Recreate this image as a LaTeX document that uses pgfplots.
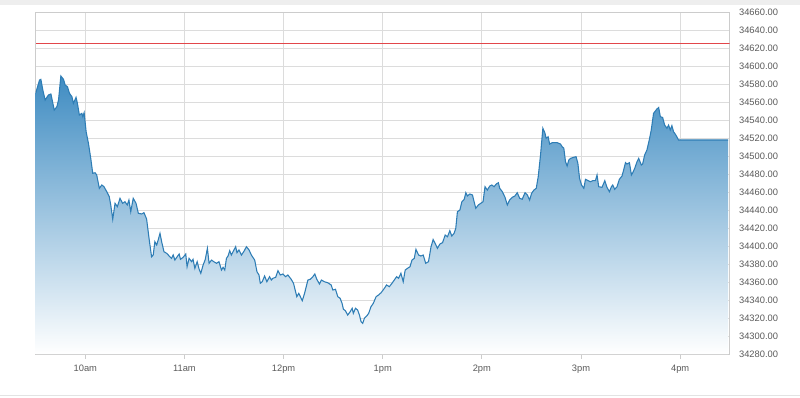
\documentclass[border=0pt]{standalone}
\usepackage{pgfplots}
\pgfplotsset{compat=1.18}
\usepackage{pgfplotstable}
\usepackage{fontspec}
\setmainfont{Liberation Sans}
\definecolor{gridc}{HTML}{DCDCDC}
\definecolor{framec}{HTML}{CCCCCC}
\definecolor{linec}{HTML}{2E7DB5}
\definecolor{filltop}{HTML}{3F8CC2}
\definecolor{refred}{RGB}{226,70,74}
\definecolor{labc}{HTML}{5A5A5A}
\definecolor{bandc}{HTML}{EEEEEE}

\pgfplotstableread{
x y
570.0 34570.0
572.3 34584.4
573.1 34585.2
574.3 34573.3
575.7 34562.2
577.7 34567.8
579.2 34568.9
581.2 34551.1
582.8 34554.8
583.8 34562.2
585.2 34588.9
586.8 34585.2
587.8 34578.9
589.2 34577.0
590.4 34569.7
591.9 34565.9
592.8 34558.6
594.4 34565.2
595.2 34558.6
596.4 34545.6
597.9 34547.4
598.5 34543.7
599.3 34548.1
600.5 34527.0
601.9 34514.1
603.3 34497.4
604.5 34480.8
605.9 34481.4
606.9 34478.9
608.5 34464.1
610.0 34467.8
611.3 34465.9
613.0 34460.3
614.5 34454.8
615.4 34445.6
616.6 34429.7
618.0 34447.4
619.4 34443.7
621.0 34453.0
622.6 34447.4
624.0 34449.2
625.4 34445.6
626.4 34451.1
627.5 34438.1
629.0 34453.0
630.7 34447.4
632.1 34436.3
634.1 34435.6
635.5 34437.0
637.1 34430.0
638.7 34406.7
640.1 34388.1
641.1 34390.0
642.1 34404.8
643.2 34401.1
644.1 34406.7
645.2 34414.1
646.2 34404.8
647.6 34393.7
649.2 34391.9
651.2 34388.1
652.2 34386.3
653.2 34390.0
654.2 34384.4
655.6 34388.1
656.8 34391.1
657.6 34385.2
659.2 34387.4
660.8 34391.1
661.6 34377.0
662.8 34386.3
664.3 34382.6
665.2 34385.2
666.3 34375.2
667.7 34382.6
668.9 34374.1
669.9 34369.7
671.3 34378.9
672.5 34384.4
673.9 34397.4
674.9 34380.8
676.4 34384.4
677.7 34382.6
679.4 34380.8
680.9 34382.6
682.4 34373.3
683.4 34376.3
684.4 34373.3
685.4 34386.3
686.4 34388.9
687.4 34394.8
688.4 34390.0
689.4 34393.7
691.0 34399.2
691.8 34392.6
693.0 34395.6
694.5 34390.0
695.9 34393.7
697.5 34399.2
699.1 34395.6
700.5 34390.0
702.5 34384.4
703.9 34371.4
705.1 34367.8
705.9 34358.6
707.1 34360.3
708.5 34366.7
709.9 34360.3
711.5 34365.9
712.6 34362.2
713.5 34364.1
715.2 34365.2
716.6 34372.6
718.0 34367.8
719.6 34368.9
721.2 34365.9
722.6 34367.8
724.6 34363.0
726.0 34358.6
728.0 34343.7
729.2 34347.4
731.3 34339.2
732.7 34347.4
734.7 34362.2
736.1 34363.0
737.7 34365.9
738.9 34368.9
740.1 34363.0
741.7 34357.8
742.9 34362.2
744.7 34360.3
746.7 34359.2
748.8 34356.7
749.8 34351.1
751.4 34351.9
752.8 34343.7
754.2 34341.9
755.4 34336.3
756.2 34329.7
757.4 34328.1
758.8 34323.3
760.3 34327.0
761.5 34330.8
762.2 34325.2
763.5 34330.8
764.8 34328.9
765.9 34323.3
766.9 34315.9
767.9 34314.1
768.9 34319.7
770.3 34322.2
771.5 34325.2
772.9 34332.6
774.3 34336.3
776.0 34343.7
777.5 34345.6
779.0 34348.1
781.0 34353.0
782.3 34356.7
784.0 34354.8
785.6 34358.6
787.0 34362.2
788.4 34365.9
789.6 34364.1
791.0 34369.7
792.4 34360.3
793.6 34373.3
795.0 34375.2
796.5 34377.0
797.7 34384.4
799.1 34386.3
800.1 34396.3
801.7 34390.0
803.1 34388.9
804.5 34390.0
806.0 34380.8
807.7 34382.6
809.2 34398.9
810.5 34407.2
811.7 34403.0
813.1 34397.4
814.6 34402.2
816.2 34403.7
817.8 34412.2
819.2 34410.3
820.6 34417.0
821.8 34411.1
823.2 34414.1
824.2 34419.7
825.2 34438.1
826.7 34440.0
827.9 34449.2
829.3 34451.9
830.3 34459.2
831.2 34455.6
832.7 34457.8
834.3 34456.7
835.3 34449.2
836.3 34441.9
837.9 34445.6
839.3 34447.4
840.7 34449.2
841.9 34465.9
843.3 34462.2
844.8 34466.7
846.0 34467.8
847.4 34465.9
848.7 34468.9
850.0 34470.3
850.8 34464.1
852.4 34460.3
854.0 34454.1
855.4 34445.6
856.8 34451.1
858.4 34454.1
860.0 34455.6
861.4 34459.2
862.9 34453.0
864.4 34451.9
866.1 34459.2
867.5 34456.7
868.9 34451.1
870.1 34458.6
871.5 34462.2
872.9 34464.1
874.1 34477.0
875.5 34501.1
876.9 34530.8
878.1 34525.9
878.9 34519.7
880.1 34521.4
881.0 34513.3
882.6 34514.8
885.6 34514.8
887.6 34513.3
888.6 34510.3
889.6 34508.6
890.6 34493.7
891.6 34488.9
892.6 34495.6
893.7 34497.4
895.6 34498.6
897.0 34499.2
898.1 34491.9
899.1 34475.2
900.3 34467.8
901.7 34464.1
902.7 34474.1
904.3 34472.6
905.7 34471.4
907.1 34472.6
908.7 34472.6
909.7 34478.9
910.7 34465.9
912.7 34465.2
914.4 34472.6
915.7 34465.2
917.2 34460.3
918.4 34465.9
919.2 34467.8
920.4 34463.0
921.8 34465.9
923.2 34474.1
924.8 34477.8
925.8 34484.4
926.9 34492.6
927.8 34491.1
929.3 34492.6
930.5 34478.9
931.3 34481.4
932.5 34486.3
933.9 34493.7
934.9 34497.4
936.5 34490.0
937.3 34491.1
938.5 34501.1
939.9 34506.7
941.3 34517.8
942.5 34528.9
943.9 34547.4
945.9 34552.2
947.0 34553.9
948.0 34543.7
949.4 34542.8
950.6 34534.4
952.0 34530.8
953.0 34534.4
954.0 34528.9
955.0 34533.7
956.0 34527.0
957.4 34523.3
959.0 34517.8
989.0 34517.8
}\pricedata

\begin{document}
\begin{tikzpicture}
\useasboundingbox (0,0) rectangle (600pt,297.75pt);
\fill[bandc] (0,294pt) rectangle (600pt,297.75pt);
\draw[bandc!90!gray, line width=0.75pt] (0,1.5pt) -- (600pt,1.5pt);
\begin{axis}[
  at={(26.8pt,32.25pt)}, anchor=south west,
  scale only axis, width=520.5pt, height=256.5pt,
  xmin=570, xmax=990, ymin=34280, ymax=34660,
  xtick={600,660,720,780,840,900,960},
  xticklabels={10am,11am,12pm,1pm,2pm,3pm,4pm},
  ytick={34280,34300,...,34660},
  scaled y ticks=false,
  yticklabel pos=right,
  xtick pos=bottom,
  tick align=outside,
  major tick length=3.5pt,
  xtick style={draw=framec, line width=0.75pt},
  ytick style={draw=none},
  grid=major,
  major grid style={draw=gridc, line width=0.75pt},
  axis line style={draw=framec, line width=0.75pt},
  ticklabel style={font=\fontsize{7}{8}\selectfont, text=labc},
  xticklabel style={yshift=-1.5pt},
  /pgf/number format/assume math mode=true,
  /pgf/number format/fixed,
  /pgf/number format/fixed zerofill,
  /pgf/number format/precision=2,
  /pgf/number format/1000 sep={},
]
\addplot[draw=none, top color=filltop, bottom color=white] table[x=x,y=y]{\pricedata}
  -- (axis cs:989,34280) -- (axis cs:570,34280) -- cycle;
\addplot[color=linec, line width=0.8pt, mark=none] table[x=x,y=y]{\pricedata};
\end{axis}
\begin{axis}[
  at={(26.8pt,32.25pt)}, anchor=south west,
  scale only axis, width=520.5pt, height=256.5pt,
  xmin=570, xmax=990, ymin=34280, ymax=34660,
  hide axis,
]
\addplot[fill=refred, draw=none, mark=none] coordinates {(570,34623.9) (990,34623.9) (990,34626.1) (570,34626.1)} -- cycle;
\end{axis}
\end{tikzpicture}
\end{document}
